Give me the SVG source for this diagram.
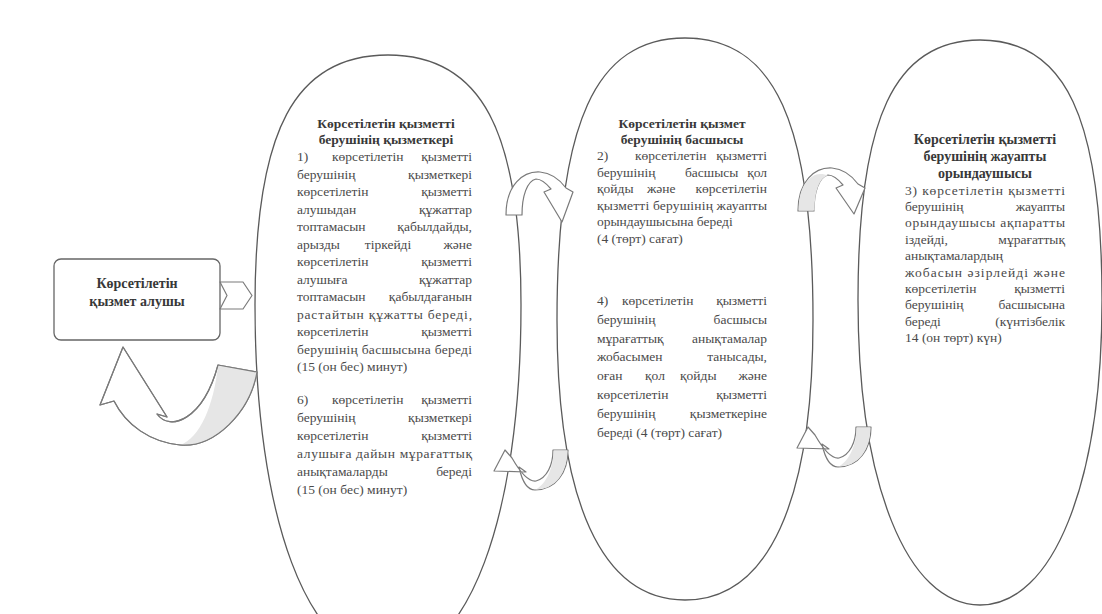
<svg xmlns="http://www.w3.org/2000/svg" width="1102" height="614" viewBox="0 0 1102 614">
<style>
.shape{fill:#fff;stroke:#5a5a5a;stroke-width:1.3}
.arr{fill:#fff;stroke:#7a7a7a;stroke-width:1.2;stroke-linejoin:round}
.arrl{fill:none;stroke:#7a7a7a;stroke-width:1.2;stroke-linejoin:round}
.shade{fill:#e6e6e6;stroke:none}
.b{font-family:"Liberation Serif","Times New Roman",serif;font-size:13.5px;fill:#4a4a4a}
.h{font-family:"Liberation Serif","Times New Roman",serif;font-size:13.5px;font-weight:bold;fill:#383838;text-anchor:middle}
.r{text-anchor:end}
.c{text-anchor:middle}
</style>
<rect width="1102" height="614" fill="#fff"/>

<g id="node-employee">
<path class="shape" d="M388,55 C481.1,55 521,130 521,305 C521,518 467.8,660 388,660 C308.2,660 255,518 255,305 C255,130 294.9,55 388,55 Z"/>
<text class="h" x="386" y="128">Көрсетілетін қызметті</text>
<text class="h" x="386" y="144">берушінің қызметкері</text>
<text class="b" x="297" y="161">1)</text><text class="b" x="332" y="161">көрсетілетін</text><text class="b r" x="472" y="161">қызметті</text>
<text class="b" x="297" y="178.5">берушінің</text><text class="b r" x="472" y="178.5">қызметкері</text>
<text class="b" x="297" y="196">көрсетілетін</text><text class="b r" x="472" y="196">қызметті</text>
<text class="b" x="297" y="213.5">алушыдан</text><text class="b r" x="472" y="213.5">құжаттар</text>
<text class="b" x="297" y="231">топтамасын</text><text class="b r" x="472" y="231">қабылдайды,</text>
<text class="b" x="297" y="248.5">арызды</text><text class="b c" x="388" y="248.5">тіркейді</text><text class="b r" x="472" y="248.5">және</text>
<text class="b" x="297" y="266">көрсетілетін</text><text class="b r" x="472" y="266">қызметті</text>
<text class="b" x="297" y="283.5">алушыға</text><text class="b r" x="472" y="283.5">құжаттар</text>
<text class="b" x="297" y="301">топтамасын</text><text class="b r" x="472" y="301">қабылдағанын</text>
<text class="b" x="297" y="318.5" textLength="175" lengthAdjust="spacing">растайтын құжатты береді,</text>
<text class="b" x="297" y="336">көрсетілетін</text><text class="b r" x="472" y="336">қызметті</text>
<text class="b" x="297" y="353.5" textLength="175" lengthAdjust="spacing">берушінің басшысына береді</text>
<text class="b" x="297" y="371">(15 (он бес) минут)</text>
<text class="b" x="297" y="404">6)</text><text class="b" x="332" y="404">көрсетілетін</text><text class="b r" x="472" y="404">қызметті</text>
<text class="b" x="297" y="422">берушінің</text><text class="b r" x="472" y="422">қызметкері</text>
<text class="b" x="297" y="440">көрсетілетін</text><text class="b r" x="472" y="440">қызметті</text>
<text class="b" x="297" y="458" textLength="175" lengthAdjust="spacing">алушыға дайын мұрағаттық</text>
<text class="b" x="297" y="476">анықтамаларды</text><text class="b r" x="472" y="476">береді</text>
<text class="b" x="297" y="494">(15 (он бес) минут)</text>
</g>

<g id="node-head">
<path class="shape" d="M685,38 C774.6,38 813,122.6 813,320 C813,502 768.2,600 685,600 C601.8,600 557,502 557,320 C557,122.6 595.4,38 685,38 Z"/>
<text class="h" x="682" y="128">Көрсетілетін қызмет</text>
<text class="h" x="682" y="144">берушінің басшысы</text>
<text class="b" x="597" y="160">2)</text><text class="b" x="635" y="160">көрсетілетін</text><text class="b r" x="767" y="160">қызметті</text>
<text class="b" x="597" y="176.5">берушінің</text><text class="b" x="685" y="176.5">басшысы</text><text class="b r" x="767" y="176.5">қол</text>
<text class="b" x="597" y="193">қойды</text><text class="b" x="647" y="193">және</text><text class="b r" x="767" y="193">көрсетілетін</text>
<text class="b" x="597" y="209.5" textLength="170" lengthAdjust="spacing">қызметті берушінің жауапты</text>
<text class="b" x="597" y="226">орындаушысына береді</text>
<text class="b" x="597" y="242.5">(4 (төрт) сағат)</text>
<text class="b" x="597" y="305">4)</text><text class="b" x="622" y="305">көрсетілетін</text><text class="b r" x="767" y="305">қызметті</text>
<text class="b" x="597" y="323.8">берушінің</text><text class="b r" x="767" y="323.8">басшысы</text>
<text class="b" x="597" y="342.6">мұрағаттық</text><text class="b r" x="767" y="342.6">анықтамалар</text>
<text class="b" x="597" y="361.4">жобасымен</text><text class="b r" x="767" y="361.4">танысады,</text>
<text class="b" x="597" y="380.2">оған</text><text class="b" x="645" y="380.2">қол</text><text class="b" x="680" y="380.2">қойды</text><text class="b r" x="767" y="380.2">және</text>
<text class="b" x="597" y="399">көрсетілетін</text><text class="b r" x="767" y="399">қызметті</text>
<text class="b" x="597" y="417.8">берушінің</text><text class="b r" x="767" y="417.8">қызметкеріне</text>
<text class="b" x="597" y="436.6">береді (4 (төрт) сағат)</text>
</g>

<g id="node-executor">
<path class="shape" d="M980,40 C1065.4,40 1102,118 1102,300 C1102,483 1053.2,605 980,605 C906.8,605 858,483 858,300 C858,118 894.6,40 980,40 Z"/>
<text class="h" x="985" y="144" style="font-size:14px">Көрсетілетін қызметті</text>
<text class="h" x="985" y="161" style="font-size:14px">берушінің жауапты</text>
<text class="h" x="985" y="178" style="font-size:14px">орындаушысы</text>
<text class="b" x="905" y="194.5" textLength="160" lengthAdjust="spacing">3) көрсетілетін қызметті</text>
<text class="b" x="905" y="210.9">берушінің</text><text class="b r" x="1065" y="210.9">жауапты</text>
<text class="b" x="905" y="227.3" textLength="160" lengthAdjust="spacing">орындаушысы ақпаратты</text>
<text class="b" x="905" y="243.7">іздейді,</text><text class="b r" x="1065" y="243.7">мұрағаттық</text>
<text class="b" x="905" y="260.1">анықтамалардың</text>
<text class="b" x="905" y="276.5" textLength="160" lengthAdjust="spacing">жобасын әзірлейді және</text>
<text class="b" x="905" y="292.9">көрсетілетін</text><text class="b r" x="1065" y="292.9">қызметті</text>
<text class="b" x="905" y="309.3">берушінің</text><text class="b r" x="1065" y="309.3">басшысына</text>
<text class="b" x="905" y="325.7">береді</text><text class="b r" x="1065" y="325.7">(күнтізбелік</text>
<text class="b" x="905" y="342.1">14 (он төрт) күн)</text>
</g>

<g id="node-client">
<rect class="shape" x="54" y="259" width="166" height="81" rx="7" style="stroke:#666"/>
<text class="h" x="137" y="288" style="font-size:14px">Көрсетілетін</text>
<text class="h" x="137" y="306" style="font-size:14px">қызмет алушы</text>
</g>

<g id="connectors">
<polygon class="arr" points="220,282 243,282 252,295.5 243,309 220,309 227,295.5"/>

<path class="arr" d="M123,347 L167,417 L157,414 C170,432 203,420 218,365 L257,372 C250,412 215,448 180,445 C150,442 126,425 114,401 L100,405 Z"/>
<path class="shade" d="M218,365 L257,372 C250,412 215,448 180,445 C200,438 214,405 218,365 Z"/>
<path class="arrl" d="M123,347 L167,417 L157,414 C170,432 203,420 218,365 L257,372 C250,412 215,448 180,445 C150,442 126,425 114,401 L100,405 Z"/>

<path class="arr" d="M506,215 C506,185 523,171 540,172 C552,173 560,180 566,188 L573,192 L562,222 L544,192 L551,189 C546,183 541,179 536,179 C527,181 522,196 522,215 Z"/>

<g transform="translate(292,-4)">
<path class="arr" d="M506,215 C506,185 523,171 540,172 C552,173 560,180 566,188 L573,192 L562,218 L544,192 L551,189 C546,183 541,179 536,179 C527,181 522,196 522,215 Z"/>
<path class="shade" d="M506.6,214.4 C506.6,186 522,173 536,179.6 C527,182 522.6,196 522.6,214.4 Z"/>
</g>

<path class="arr" d="M494,471 L505,450 L512,458 C520,472 528,482 536,481 C547,478 553,465 553,450 L568,450 C568,472 556,490 535,490 C527,490 522,481 519,467 L526,472 Z"/>
<path class="shade" d="M553.6,450.6 L567.4,450.6 C567.4,472 556,489.4 536,489.4 C546,484 553.6,468 553.6,450.6 Z"/>

<g transform="translate(303,-23)">
<path class="arr" d="M494,471 L505,450 L512,458 C520,472 528,482 536,481 C547,478 553,465 553,450 L568,450 C568,472 556,490 535,490 C527,490 522,481 519,467 L526,472 Z"/>
<path class="shade" d="M553.6,450.6 L567.4,450.6 C567.4,472 556,489.4 536,489.4 C546,484 553.6,468 553.6,450.6 Z"/>
</g>
</g>
</svg>
